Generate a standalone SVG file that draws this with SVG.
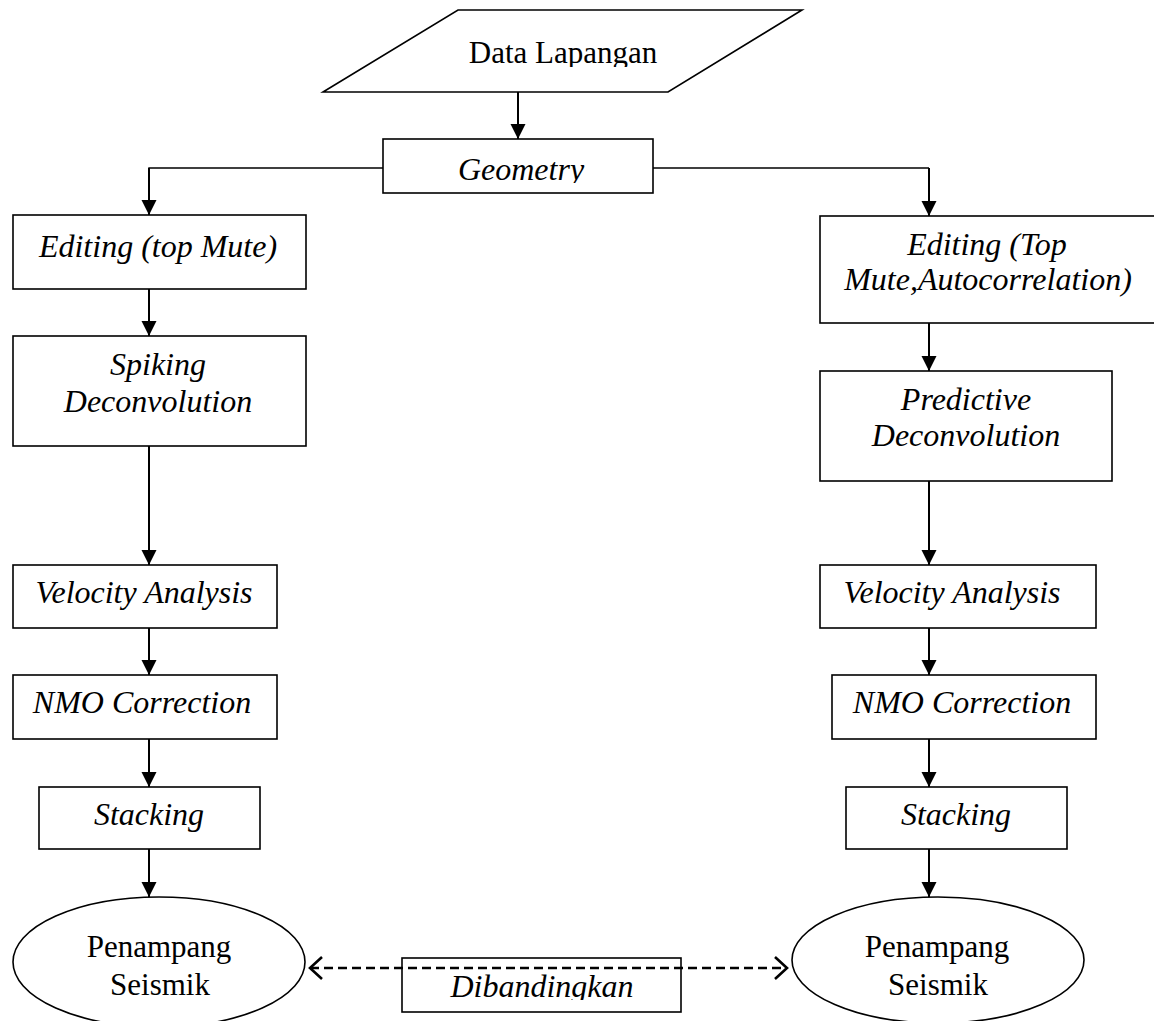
<svg xmlns="http://www.w3.org/2000/svg" width="1154" height="1021" viewBox="0 0 1154 1021">
<style>
.bx{fill:#fff;stroke:#000;stroke-width:1.6}
.t{font-family:"Liberation Serif","Times New Roman",serif;font-size:31px;fill:#000;text-anchor:middle}
.i{font-style:italic;font-size:32px}
.ln{fill:none;stroke:#000;stroke-width:2}
.thin{fill:none;stroke:#000;stroke-width:1.4}
.dash{fill:none;stroke:#000;stroke-width:2.6;stroke-dasharray:9 5}
</style>
<defs>
<marker id="ah" markerUnits="userSpaceOnUse" markerWidth="16" markerHeight="16" refX="15" refY="7.5" orient="auto"><path d="M0,0 L15,7.5 L0,15 z" fill="#000"/></marker>
<marker id="ch" markerUnits="userSpaceOnUse" markerWidth="16" markerHeight="26" refX="13" refY="12" orient="auto-start-reverse"><path d="M1,1 L13,12 L1,23" fill="none" stroke="#000" stroke-width="2.6"/></marker>
<clipPath id="c1"><rect x="300" y="0" width="520" height="67"/></clipPath>
<clipPath id="c2"><rect x="383" y="139" width="270" height="44"/></clipPath>
<clipPath id="c3"><rect x="402" y="958" width="279" height="42"/></clipPath>
</defs>

<g id="connectors">
<line class="ln" x1="518" y1="92" x2="518" y2="139" marker-end="url(#ah)"/>
<polyline class="thin" points="383,168 149,168 149,169"/>
<line class="ln" x1="149" y1="168" x2="149" y2="215" marker-end="url(#ah)"/>
<polyline class="thin" points="653,168 929,168"/>
<line class="ln" x1="929" y1="168" x2="929" y2="216" marker-end="url(#ah)"/>
<line class="ln" x1="149" y1="289" x2="149" y2="336" marker-end="url(#ah)"/>
<line class="ln" x1="149" y1="446" x2="149" y2="565" marker-end="url(#ah)"/>
<line class="ln" x1="149" y1="628" x2="149" y2="675" marker-end="url(#ah)"/>
<line class="ln" x1="149" y1="739" x2="149" y2="787" marker-end="url(#ah)"/>
<line class="ln" x1="149" y1="849" x2="149" y2="897" marker-end="url(#ah)"/>
<line class="ln" x1="929" y1="323" x2="929" y2="371" marker-end="url(#ah)"/>
<line class="ln" x1="929" y1="481" x2="929" y2="565" marker-end="url(#ah)"/>
<line class="ln" x1="929" y1="628" x2="929" y2="675" marker-end="url(#ah)"/>
<line class="ln" x1="929" y1="739" x2="929" y2="787" marker-end="url(#ah)"/>
<line class="ln" x1="929" y1="849" x2="929" y2="897" marker-end="url(#ah)"/>
</g>

<g id="data-lapangan">
<polygon class="bx" points="458,10 802,10 668,92 323,92"/>
<text class="t" x="563" y="63" clip-path="url(#c1)">Data Lapangan</text>
</g>
<g id="geometry">
<rect class="bx" x="383" y="139" width="270" height="54"/>
<text class="t i" x="521" y="180" clip-path="url(#c2)">Geometry</text>
</g>

<g id="editing-left">
<rect class="bx" x="13" y="215" width="293" height="74"/>
<text class="t i" x="158" y="257">Editing (top Mute)</text>
</g>
<g id="spiking">
<rect class="bx" x="13" y="336" width="293" height="110"/>
<text class="t i" x="158" y="375">Spiking</text>
<text class="t i" x="158" y="412">Deconvolution</text>
</g>
<g id="velocity-left">
<rect class="bx" x="13" y="565" width="264" height="63"/>
<text class="t i" x="144" y="603">Velocity Analysis</text>
</g>
<g id="nmo-left">
<rect class="bx" x="13" y="675" width="264" height="64"/>
<text class="t i" x="142" y="713">NMO Correction</text>
</g>
<g id="stacking-left">
<rect class="bx" x="39" y="787" width="221" height="62"/>
<text class="t i" x="149" y="825">Stacking</text>
</g>
<g id="penampang-left">
<ellipse class="bx" cx="159" cy="962" rx="146" ry="65"/>
<text class="t" x="159" y="957">Penampang</text>
<text class="t" x="160" y="995">Seismik</text>
</g>

<g id="editing-right">
<rect class="bx" x="820" y="216" width="338" height="107"/>
<text class="t i" x="987" y="255">Editing (Top</text>
<text class="t i" x="988" y="290">Mute,Autocorrelation)</text>
</g>
<g id="predictive">
<rect class="bx" x="820" y="371" width="292" height="110"/>
<text class="t i" x="966" y="410">Predictive</text>
<text class="t i" x="966" y="446">Deconvolution</text>
</g>
<g id="velocity-right">
<rect class="bx" x="820" y="565" width="276" height="63"/>
<text class="t i" x="952" y="603">Velocity Analysis</text>
</g>
<g id="nmo-right">
<rect class="bx" x="832" y="675" width="264" height="64"/>
<text class="t i" x="962" y="713">NMO Correction</text>
</g>
<g id="stacking-right">
<rect class="bx" x="846" y="787" width="221" height="62"/>
<text class="t i" x="956" y="825">Stacking</text>
</g>
<g id="penampang-right">
<ellipse class="bx" cx="938" cy="960" rx="146" ry="63"/>
<text class="t" x="937" y="957">Penampang</text>
<text class="t" x="938" y="995">Seismik</text>
</g>

<g id="dibandingkan">
<rect class="bx" x="402" y="958" width="279" height="54"/>
<text class="t i" x="542" y="997" clip-path="url(#c3)">Dibandingkan</text>
</g>
<g id="compare-connector">
<line class="dash" x1="310" y1="968" x2="787" y2="968" marker-start="url(#ch)" marker-end="url(#ch)"/>
</g>
</svg>
